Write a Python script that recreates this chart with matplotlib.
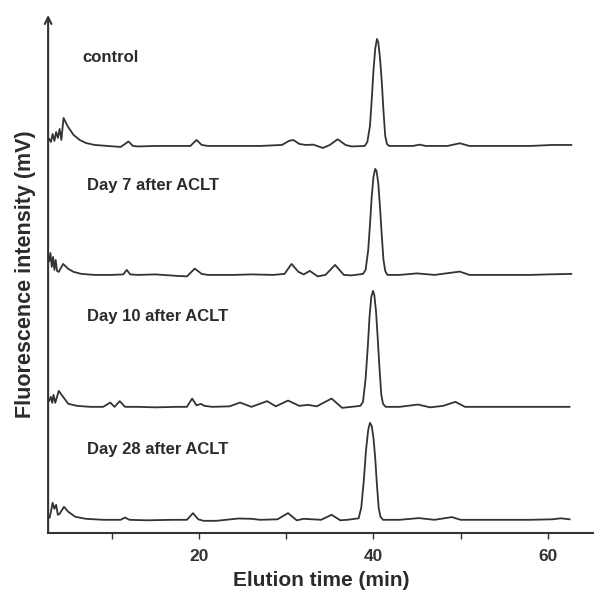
import matplotlib.pyplot as plt

plt.rcParams['font.family'] = ['Liberation Sans', 'DejaVu Sans']

# chromatogram traces (time in min, signal above own baseline)
control_t = [2.8, 3.0, 3.2, 3.4, 3.6, 3.8, 4.0, 4.2, 4.45, 4.9, 5.6, 6.3, 7.0, 8.0, 9.5, 11.0, 11.5, 11.9,
             12.4, 13.0, 15, 17, 19.0, 19.7, 20.3, 21, 24, 27, 29.5, 30.3, 30.8, 31.5, 32.2, 33.1, 34.2, 35.0,
             35.9, 36.8, 37.5, 39.0, 39.3, 39.6, 39.8, 40.0, 40.2, 40.4, 40.55, 40.75, 40.95, 41.15, 41.35,
             41.55, 41.8, 42.5, 44.5, 45.3, 46.0, 48.5, 49.9, 51, 55, 58, 60.5, 62.7]
control_y = [7, 4, 12, 5, 14, 8, 17, 6, 28, 20, 11, 6, 3, 1, 0, -1, 2, 4.5,
             0, -0.5, 0, 0, 0, 6, 1, 0, 0, 0, 1, 5, 6, 2, 1, 1.3, -2, 1,
             6.7, 1, -0.5, 0, 4, 20, 46, 75, 97, 107, 104, 88, 65, 35, 10,
             2, 0, 0, 0, 1.3, 0, 0, 2.7, 0, 0, 0, 1, 1]

day7_t = [2.8, 2.95, 3.1, 3.25, 3.4, 3.55, 3.7, 3.9, 4.4, 5.0, 5.6, 6.5, 8, 10, 11.3, 11.7, 12.1, 13, 15,
          17.5, 18.6, 19.5, 20.3, 21, 24, 26, 28.5, 29.8, 30.6, 31.4, 32.0, 32.7, 33.6, 34.5, 35.6, 36.6,
          37.5, 38.8, 39.1, 39.4, 39.6, 39.8, 40.0, 40.2, 40.35, 40.55, 40.75, 40.95, 41.15, 41.35, 41.6,
          43, 45, 47, 49.9, 51, 55, 58, 60, 62.7]
day7_y = [14, 22, 8, 18, 5, 15, 4, 3, 11, 6, 3, 1, 0, 0, 0.5, 5, 0.5, 0, 0.5,
          -1, -1.5, 6.3, 1, 0, 0, 0.5, 0, 1, 11, 3, 0.5, 4, -1.5, 0, 10, 0,
          -0.5, 1, 5, 25, 50, 78, 98, 106, 104, 92, 68, 40, 15, 4, 0,
          0, 1.5, 0, 3.3, 0, 0, 0, 0.5, 1]

day10_t = [2.8, 3.0, 3.15, 3.3, 3.5, 3.9, 4.4, 5.0, 6.0, 7.5, 9.0, 9.8, 10.3, 10.9, 11.5, 13, 15, 17.5,
           18.6, 19.2, 19.7, 20.2, 20.6, 21.5, 23.5, 24.7, 26.0, 27.8, 28.8, 30.2, 31.5, 32.5, 33.5, 35.2,
           36.4, 37.5, 38.5, 38.8, 39.1, 39.35, 39.55, 39.75, 39.95, 40.1, 40.3, 40.5, 40.7, 40.9, 41.1,
           41.4, 43, 45.1, 46.5, 48, 49.4, 50.5, 53, 56, 59, 62.5]
day10_y = [6, 10, 4, 12, 4, 16, 10, 3, 1, 0, 0, 4.3, 0, 5.7, 0, 0, -0.5, 0,
           0, 8.3, 1.5, 3, 1, 0, 0.5, 4.3, 0, 5.7, 0.5, 6.3, 1, 2, 0.5, 8.3,
           -1, 0, 1, 5, 28, 60, 90, 110, 116, 112, 95, 67, 38, 12, 3,
           0, 0, 2.3, -0.5, 1, 5, 0, 0, 0, 0, 0]

day28_t = [2.7, 2.85, 3.0, 3.2, 3.4, 3.6, 3.8, 4.0, 4.5, 5.0, 5.8, 7.0, 9.0, 11.0, 11.5, 12.0, 14, 17,
           18.6, 19.3, 19.9, 20.5, 22, 24.5, 26, 27, 29, 30.2, 31.2, 32, 34, 35.2, 36.2, 37, 38.3, 38.6,
           38.9, 39.15, 39.4, 39.6, 39.8, 40.0, 40.2, 40.4, 40.6, 40.8, 41.1, 43, 45.2, 47, 49.0, 50, 54,
           58, 60.5, 61.5, 62.5]
day28_y = [4, 2, 8, 17, 11, 15, 5, 6, 13, 8, 3, 1, 0, 0, 2.3, 0, -0.5, 0,
           0, 6.7, 0.5, -1, -1, 1.3, 1, 0, 0.5, 6.7, -0.5, 1, 0, 5, -0.5, 0, 1.5, 12,
           40, 70, 90, 97, 94, 82, 62, 35, 12, 3, 0, 0, 1.7, 0, 2.7, 0, 0,
           0, 0.5, 1.5, 0.5]

labels = ['control', 'Day 7 after ACLT', 'Day 10 after ACLT', 'Day 28 after ACLT']
traces = [(control_t, control_y), (day7_t, day7_y), (day10_t, day10_y), (day28_t, day28_y)]
offsets = [387, 258, 126, 13]
label_y = [475, 347, 216, 83]
label_x = [6.6, 7.15, 7.15, 7.15]

fig = plt.figure(figsize=(5.94, 6.0), dpi=100)
ax = fig.add_axes([0.081, 0.112, 0.919, 0.863])

line_color = '#333333'
for (t, y), off in zip(traces, offsets):
    ax.plot(t, [v + off for v in y], color=line_color, lw=1.3)

for lab, lx, ly in zip(labels, label_x, label_y):
    ax.text(lx, ly, lab, fontsize=12, fontweight='bold', color='#2b2b2b', va='center', ha='left')

ax.set_xlim(2.68, 65.3)
ax.set_ylim(0, 518)

for s in ['top', 'right', 'left']:
    ax.spines[s].set_visible(False)
ax.spines['bottom'].set_linewidth(1.5)
ax.spines['bottom'].set_color('#333333')

# y axis drawn as an arrow
ax.annotate('', xy=(0, 1.0), xytext=(0, 0), xycoords='axes fraction',
            arrowprops=dict(arrowstyle='->', lw=1.5, color='#333333', shrinkA=0, shrinkB=0,
                            mutation_scale=12))

ax.set_yticks([])
ax.set_xticks([10, 20, 30, 40, 50, 60])
ax.set_xticklabels(['', '20', '', '40', '', '60'])
ax.tick_params(axis='x', direction='out', length=4, width=1, colors='#333333', labelsize=12.5, pad=8)
for lab in ax.get_xticklabels():
    lab.set_fontweight('bold')

ax.set_xlabel('Elution time (min)', fontsize=15, fontweight='bold', color='#2b2b2b', labelpad=5)
ax.set_ylabel('Fluorescence intensity (mV)', fontsize=15.5, fontweight='bold', color='#2b2b2b',
              labelpad=9)

fig.savefig('out.png', dpi=100)
